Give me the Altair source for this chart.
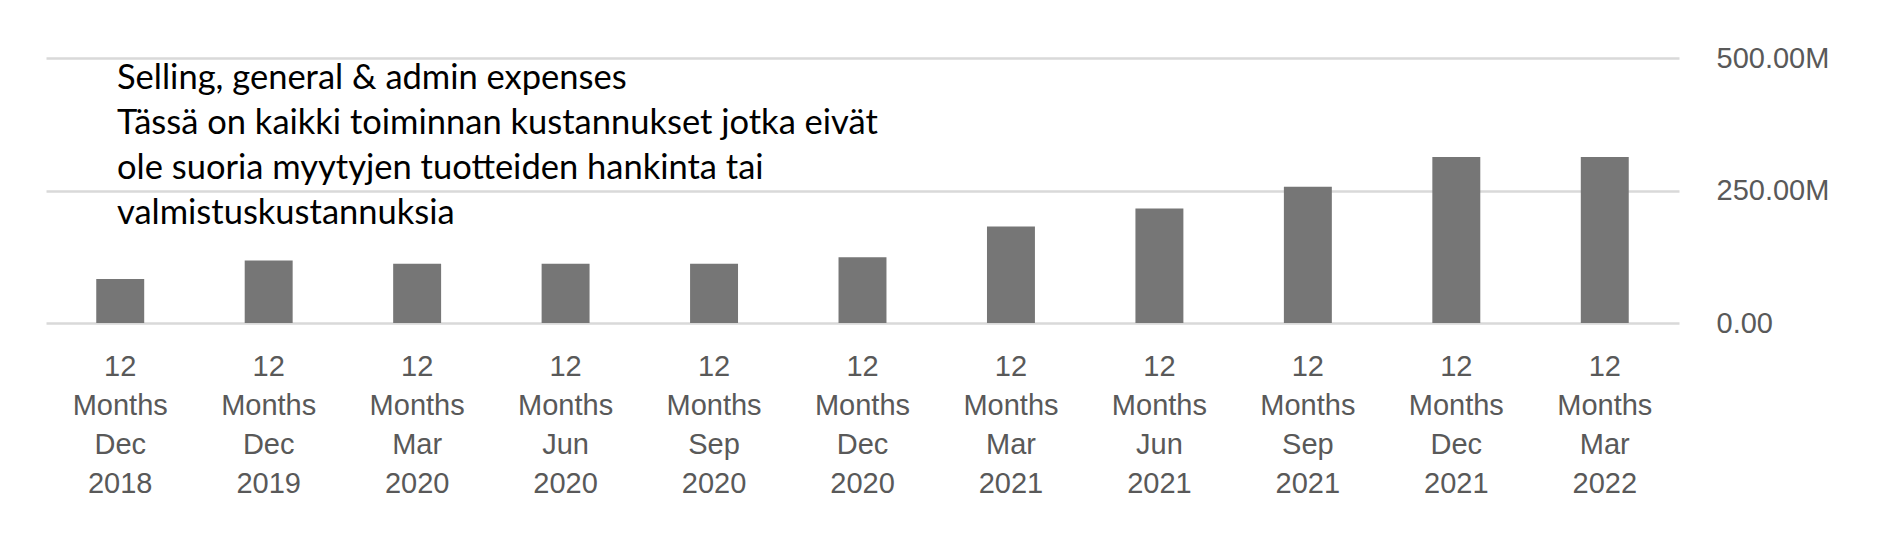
import altair as alt
import pandas as pd

periods = ["12|Months|Dec|2018", "12|Months|Dec|2019", "12|Months|Mar|2020", "12|Months|Jun|2020",
           "12|Months|Sep|2020", "12|Months|Dec|2020", "12|Months|Mar|2021", "12|Months|Jun|2021",
           "12|Months|Sep|2021", "12|Months|Dec|2021", "12|Months|Mar|2022"]
values_m = [83, 118, 112, 112, 112, 124, 182, 216, 257, 313, 313]
y_ticks = [0, 250, 500]
note_lines = ["Selling, general & admin expenses",
              "Tässä on kaikki toiminnan kustannukset jotka eivät",
              "ole suoria myytyjen tuotteiden hankinta tai",
              "valmistuskustannuksia"]

df = pd.DataFrame({"period": periods, "value": values_m})

bars = alt.Chart(df).mark_bar(color="#767676").encode(
    x=alt.X("period:N", sort=periods,
            scale=alt.Scale(paddingInner=0.677, paddingOuter=0.3385),
            axis=alt.Axis(title=None, domain=False, ticks=False, grid=False,
                          labelAngle=0, labelPadding=29, labelFontSize=29,
                          labelFont="Liberation Sans", labelColor="#595959",
                          labelLineHeight=39, labelBaseline="top",
                          labelExpr="split(datum.label, '|')")),
    y=alt.Y("value:Q",
            scale=alt.Scale(domain=[0, 500], nice=False, zero=True),
            axis=alt.Axis(title=None, orient="right", values=y_ticks, domain=False,
                          ticks=False, grid=True, gridColor="#d9d9d9", gridWidth=2.5,
                          labelPadding=37, labelFontSize=29, labelFont="Liberation Sans",
                          labelColor="#595959", labelBaseline="middle",
                          labelExpr="datum.value == 0 ? '0.00' : format(datum.value, '.2f') + 'M'")),
)

note = alt.Chart(pd.DataFrame({"t": [note_lines]})).mark_text(
    align="left", baseline="middle", font="Lato", fontSize=34.5, color="#000000",
    lineHeight=45,
).encode(text="t", x=alt.value(71), y=alt.value(21))

chart = alt.layer(bars, note).properties(
    width=1633, height=265,
    background="#ffffff",
    padding={"left": 38, "top": 50, "right": 210, "bottom": 206},
    autosize=alt.AutoSizeParams(type="none"),
).configure_view(stroke=None, strokeWidth=0)

chart.save("out.html", embed_options={"renderer": "svg", "actions": False})
